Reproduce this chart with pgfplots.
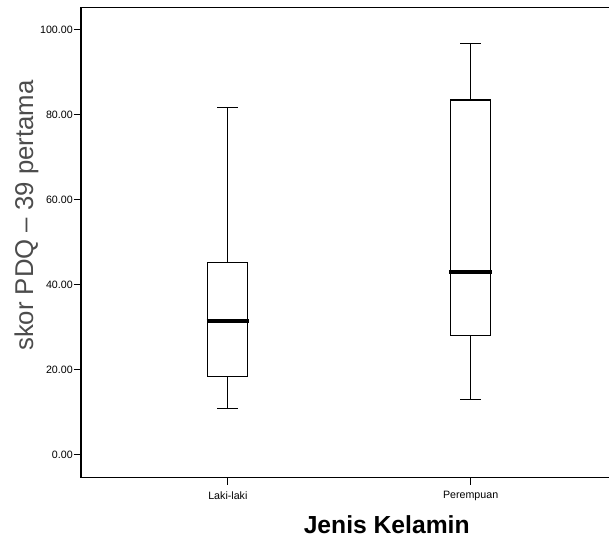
\documentclass[border=0pt]{standalone}
\usepackage{fontspec}
\setmainfont{Liberation Sans}
\usepackage{pgfplots}
\pgfplotsset{compat=1.18}

\begin{document}
\begin{tikzpicture}
\begin{axis}[
    scale only axis,
    width=396pt, height=352.5pt,
    xmin=0.395, xmax=2.57,
    ymin=-5.4, ymax=105.3,
    axis line style={draw=none},
    xtick={1,2}, xticklabels={Laki-laki, Perempuan},
    xtick pos=left, ytick pos=left,
    ytick={0,20,40,60,80,100},
    yticklabels={0.00,20.00,40.00,60.00,80.00,100.00},
    tick align=outside,
    major tick length=5.5pt,
    tick style={black, line width=0.8pt},
    ticklabel style={font=\fontsize{8}{9}\selectfont},
    yticklabel style={inner sep=0.5pt},
    xticklabel style={yshift=-1.5pt},
    xlabel={Jenis Kelamin},
    xlabel style={font=\fontsize{18.5}{22}\selectfont\bfseries,
        at={(axis description cs:0.579,-0.1)}, anchor=center},
    ylabel={skor PDQ -- 39 pertama},
    ylabel style={font=\fontsize{19.3}{23}\selectfont, text=black!70,
        at={(axis description cs:-0.0909,0.557)}, anchor=base},
    clip=false,
]
% Laki-laki: whiskers 10.85 / 81.8, box 18.4 - 45.3, median 31.4
\addplot[black, line width=0.9pt] coordinates {(1,45.3) (1,81.8)};
\addplot[black, line width=0.9pt] coordinates {(0.957,81.8) (1.043,81.8)};
\addplot[black, line width=0.9pt] coordinates {(1,18.4) (1,10.85)};
\addplot[black, line width=0.9pt] coordinates {(0.957,10.85) (1.043,10.85)};
\addplot[black, line width=0.9pt, fill=white] coordinates
    {(0.9175,18.4) (1.0825,18.4) (1.0825,45.3) (0.9175,45.3)} -- cycle;
\addplot[black, line width=3pt] coordinates {(0.912,31.4) (1.088,31.4)};
% Perempuan: whiskers 13.0 / 96.9, box 28.1 - 83.5, median 42.9
\addplot[black, line width=0.9pt] coordinates {(2,83.5) (2,96.9)};
\addplot[black, line width=0.9pt] coordinates {(1.957,96.9) (2.043,96.9)};
\addplot[black, line width=0.9pt] coordinates {(2,28.1) (2,13.0)};
\addplot[black, line width=0.9pt] coordinates {(1.957,13.0) (2.043,13.0)};
\addplot[black, line width=0.9pt, fill=white] coordinates
    {(1.9175,28.1) (2.0825,28.1) (2.0825,83.5) (1.9175,83.5)} -- cycle;
\addplot[black, line width=3pt] coordinates {(1.912,42.9) (2.088,42.9)};
\draw[black, line width=1.1pt] (rel axis cs:1,1) -- (rel axis cs:0,1)
    -- (rel axis cs:0,0) -- (rel axis cs:1,0);
\coordinate (bl) at (rel axis cs:0,0);
\coordinate (tr) at (rel axis cs:1,1);
\end{axis}
\pgfresetboundingbox
\path ([xshift=-60.75pt, yshift=-45.75pt]bl) rectangle ([yshift=5.6pt]tr);
\end{tikzpicture}
\end{document}
